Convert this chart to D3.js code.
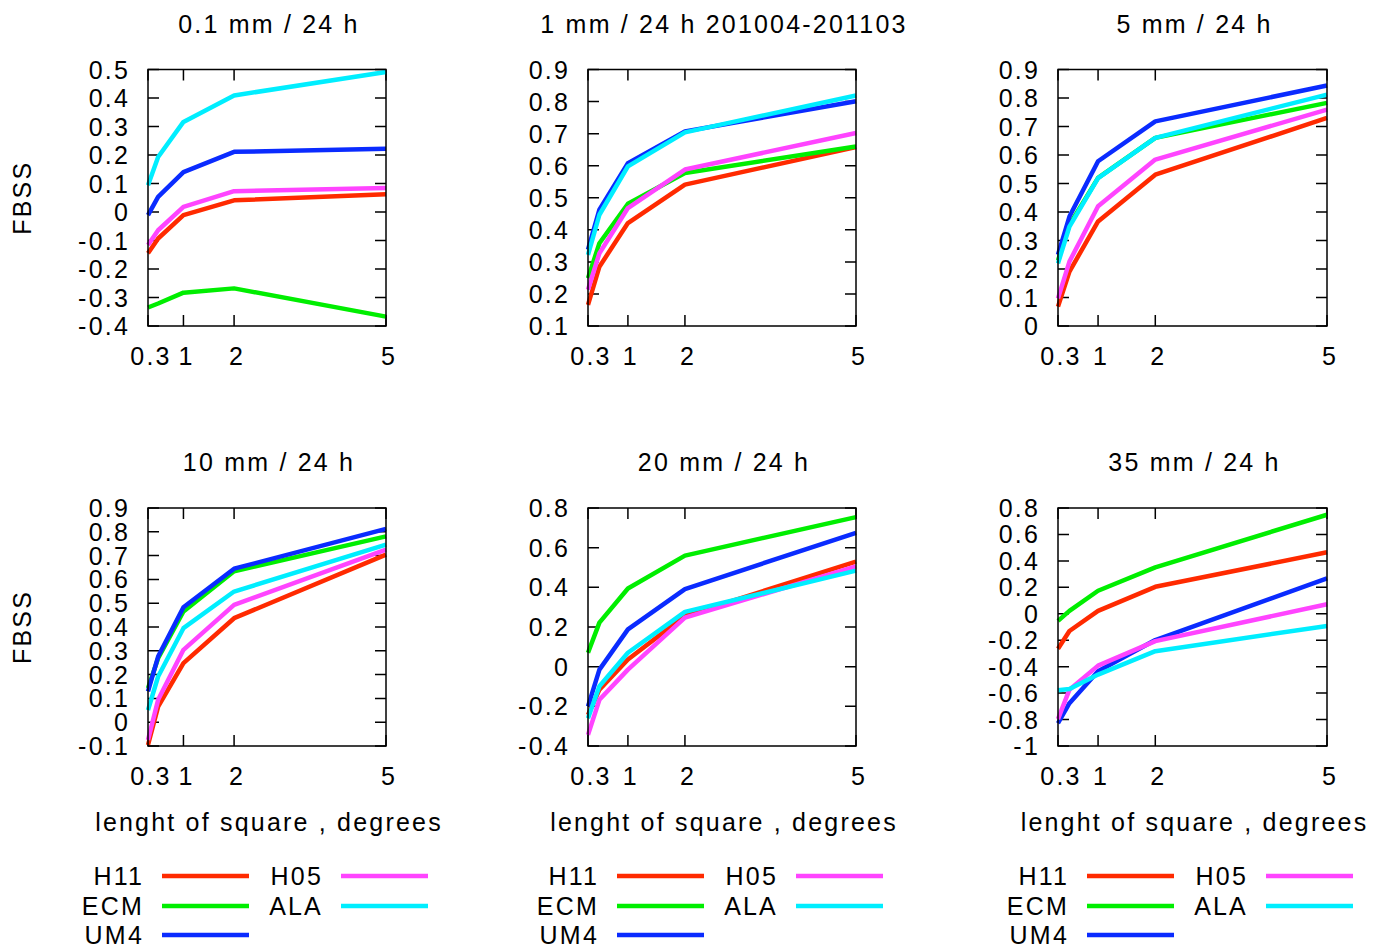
<!DOCTYPE html>
<html>
<head>
<meta charset="utf-8">
<script src="https://cdn.jsdelivr.net/npm/d3@7"></script>
<style>
  body { margin: 0; background: #fff; }
  svg text { font-family: "Liberation Sans", Arial, sans-serif; font-size: 25px; letter-spacing: 2.2px; fill: #000; }
</style>
</head>
<body>
<div id="chart"></div>
<script>
  // size of square (degrees) on the x axis
  var xVals = [0.3, 0.5, 1, 2, 5]
  var xTicks = [0.3, 1, 2, 5]

  // models, in plotting order
  var models = ["H11", "ECM", "UM4", "H05", "ALA"]
  var colors = ["#ff2a00", "#00ee00", "#0a2bff", "#ff44ff", "#00eeff"]

  // panel titles and y ranges
  var titles = ["0.1 mm / 24 h", "1 mm / 24 h 201004-201103", "5 mm / 24 h",
                "10 mm / 24 h", "20 mm / 24 h", "35 mm / 24 h"]
  var yDomains = [[-0.4, 0.5], [0.1, 0.9], [0, 0.9], [-0.1, 0.9], [-0.4, 0.8], [-1, 0.8]]
  var yStep = [0.1, 0.1, 0.1, 0.1, 0.2, 0.2]

  // FBSS values, one array per model: H11, ECM, UM4, H05, ALA
  var fbss_01mm = [
    [-0.145, -0.093, -0.011, 0.041, 0.062],
    [-0.335, -0.321, -0.283, -0.268, -0.367],
    [-0.011, 0.053, 0.140, 0.211, 0.222],
    [-0.116, -0.064, 0.018, 0.073, 0.084],
    [0.094, 0.193, 0.316, 0.409, 0.491]
  ]
  var fbss_1mm = [
    [0.166, 0.285, 0.421, 0.541, 0.658],
    [0.249, 0.358, 0.481, 0.577, 0.660],
    [0.338, 0.463, 0.608, 0.707, 0.801],
    [0.213, 0.327, 0.468, 0.588, 0.702],
    [0.322, 0.447, 0.598, 0.704, 0.819]
  ]
  var fbss_5mm = [
    [0.068, 0.191, 0.367, 0.531, 0.730],
    [0.230, 0.355, 0.520, 0.660, 0.783],
    [0.250, 0.384, 0.578, 0.718, 0.844],
    [0.097, 0.226, 0.420, 0.584, 0.759],
    [0.220, 0.349, 0.519, 0.660, 0.812]
  ]
  var fbss_10mm = [
    [-0.096, 0.065, 0.248, 0.437, 0.704],
    [0.143, 0.269, 0.465, 0.634, 0.781],
    [0.129, 0.276, 0.483, 0.645, 0.812],
    [-0.075, 0.094, 0.304, 0.493, 0.725],
    [0.051, 0.192, 0.395, 0.549, 0.746]
  ]
  var fbss_20mm = [
    [-0.243, -0.116, 0.036, 0.256, 0.530],
    [0.070, 0.222, 0.394, 0.560, 0.754],
    [-0.200, -0.015, 0.188, 0.391, 0.675],
    [-0.344, -0.167, -0.015, 0.247, 0.506],
    [-0.260, -0.099, 0.070, 0.276, 0.484]
  ]
  var fbss_35mm = [
    [-0.265, -0.130, 0.022, 0.204, 0.465],
    [-0.054, 0.022, 0.174, 0.351, 0.749],
    [-0.828, -0.676, -0.435, -0.199, 0.268],
    [-0.797, -0.574, -0.392, -0.207, 0.072],
    [-0.579, -0.569, -0.460, -0.283, -0.092]
  ]
  var panelData = [fbss_01mm, fbss_1mm, fbss_5mm, fbss_10mm, fbss_20mm, fbss_35mm]

  // layout of the boxes
  var colLeft = [148, 588, 1058]
  var colRight = [386, 856, 1327]
  var rowTop = [69.5, 508]
  var rowBottom = [326, 746]
  var tickLen = 11

  var svg = d3.select("#chart")
    .append("svg")
    .attr("width", 1390)
    .attr("height", 950)

  var line = d3.line()

  panelData.forEach(function (data, i) {
    var col = i % 3, row = Math.floor(i / 3)
    var x0 = colLeft[col], x1 = colRight[col], y0 = rowTop[row], y1 = rowBottom[row]

    var x = d3.scaleLinear().domain([0.3, 5]).range([x0, x1])
    var y = d3.scaleLinear().domain(yDomains[i]).range([y1, y0])

    var dom = yDomains[i]
    var n = Math.round((dom[1] - dom[0]) / yStep[i])
    var yTicks = d3.range(n + 1).map(function (k) { return +(dom[0] + k * yStep[i]).toFixed(1) })

    var g = svg.append("g")

    // ticks drawn inward on all four sides
    g.selectAll(".yt")
      .data(yTicks)
      .enter()
      .append("path")
      .attr("d", function (d) {
        var yy = y(d)
        return "M" + x0 + "," + yy + "h" + tickLen + "M" + x1 + "," + yy + "h" + (-tickLen)
      })
      .attr("stroke", "#000")
      .attr("stroke-width", 1.5)

    g.selectAll(".xt")
      .data(xTicks)
      .enter()
      .append("path")
      .attr("d", function (d) {
        var xx = x(d)
        return "M" + xx + "," + y1 + "v" + (-tickLen) + "M" + xx + "," + y0 + "v" + tickLen
      })
      .attr("stroke", "#000")
      .attr("stroke-width", 1.5)

    // tick labels
    g.selectAll(".yl")
      .data(yTicks)
      .enter()
      .append("text")
      .attr("x", x0 - 18)
      .attr("y", function (d) { return y(d) })
      .attr("dy", "0.36em")
      .attr("text-anchor", "end")
      .text(function (d) { return String(d) })

    g.selectAll(".xl")
      .data(xTicks)
      .enter()
      .append("text")
      .attr("x", function (d) { return x(d) + 3 })
      .attr("y", y1 + 30)
      .attr("dy", "0.36em")
      .attr("text-anchor", "middle")
      .text(function (d) { return String(d) })

    // the curves
    data.forEach(function (vals, m) {
      g.append("path")
        .datum(vals)
        .attr("fill", "none")
        .attr("stroke", colors[m])
        .attr("stroke-width", 4.5)
        .attr("stroke-linejoin", "round")
        .attr("d", line.x(function (d, k) { return x(xVals[k]) }).y(function (d) { return y(d) }))
    })

    // frame
    g.append("rect")
      .attr("x", x0)
      .attr("y", y0)
      .attr("width", x1 - x0)
      .attr("height", y1 - y0)
      .attr("fill", "none")
      .attr("stroke", "#000")
      .attr("stroke-width", 1.5)

    // title
    g.append("text")
      .attr("x", (x0 + x1) / 2 + 2)
      .attr("y", y0 - 46)
      .attr("dy", "0.36em")
      .attr("text-anchor", "middle")
      .text(titles[i])

    if (col == 0) {
      g.append("text")
        .attr("transform", "translate(22," + (y0 + y1) / 2 + ") rotate(-90)")
        .attr("dy", "0.36em")
        .attr("text-anchor", "middle")
        .text("FBSS")
    }
    if (row == 1) {
      g.append("text")
        .attr("x", (x0 + x1) / 2 + 2)
        .attr("y", 822)
        .attr("dy", "0.36em")
        .attr("text-anchor", "middle")
        .text("lenght of square , degrees")
    }
  })

  // legends under each column
  var legendLeft = [162, 617, 1087]
  var legendRows = [876, 906, 935]
  legendLeft.forEach(function (L) {
    models.forEach(function (name, m) {
      var c = m < 3 ? 0 : 1
      var r = m < 3 ? m : m - 3
      var lx = L + c * 179
      var ly = legendRows[r]
      svg.append("text")
        .attr("x", lx - 18)
        .attr("y", ly)
        .attr("dy", "0.36em")
        .attr("text-anchor", "end")
        .text(name)
      svg.append("line")
        .attr("x1", lx)
        .attr("x2", lx + 87)
        .attr("y1", ly)
        .attr("y2", ly)
        .attr("stroke", colors[m])
        .attr("stroke-width", 4.5)
    })
  })
</script>
</body>
</html>
